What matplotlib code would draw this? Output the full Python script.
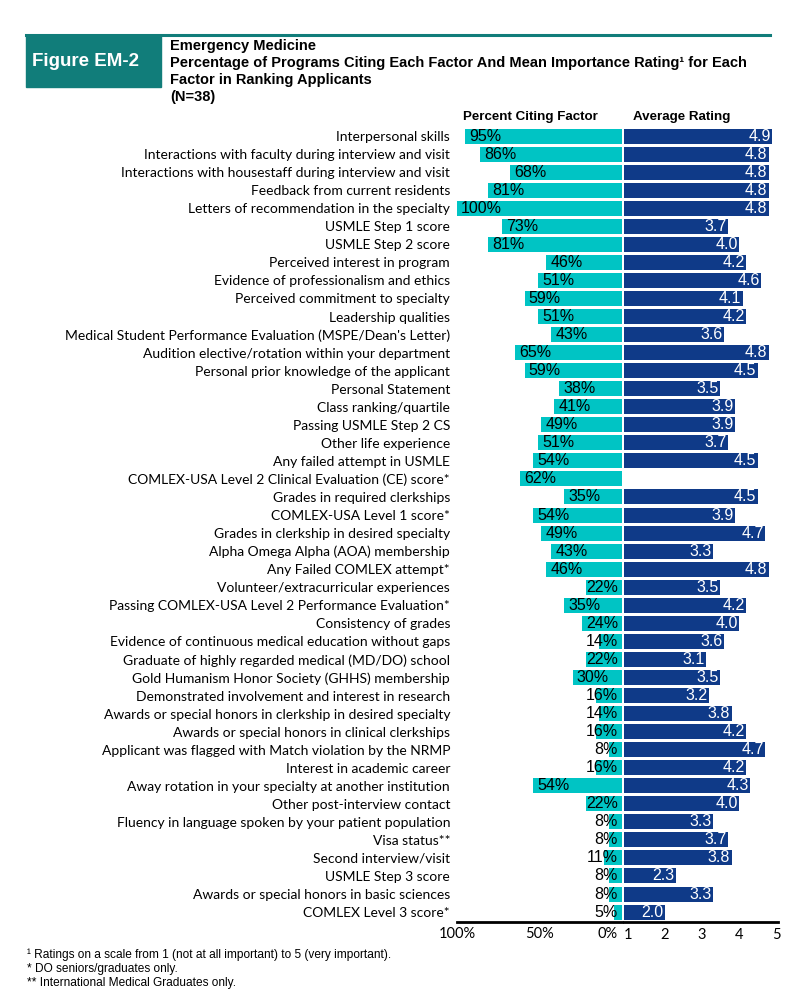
import matplotlib
matplotlib.use("Agg")
import matplotlib.pyplot as plt
from matplotlib.patches import Rectangle
from matplotlib.lines import Line2D

factors = [
    "Interpersonal skills",
    "Interactions with faculty during interview and visit",
    "Interactions with housestaff during interview and visit",
    "Feedback from current residents",
    "Letters of recommendation in the specialty",
    "USMLE Step 1 score",
    "USMLE Step 2 score",
    "Perceived interest in program",
    "Evidence of professionalism and ethics",
    "Perceived commitment to specialty",
    "Leadership qualities",
    "Medical Student Performance Evaluation (MSPE/Dean's Letter)",
    "Audition elective/rotation within your department",
    "Personal prior knowledge of the applicant",
    "Personal Statement",
    "Class ranking/quartile",
    "Passing USMLE Step 2 CS",
    "Other life experience",
    "Any failed attempt in USMLE",
    "COMLEX-USA Level 2 Clinical Evaluation (CE) score*",
    "Grades in required clerkships",
    "COMLEX-USA Level 1 score*",
    "Grades in clerkship in desired specialty",
    "Alpha Omega Alpha (AOA) membership",
    "Any Failed COMLEX attempt*",
    "Volunteer/extracurricular experiences",
    "Passing COMLEX-USA Level 2 Performance Evaluation*",
    "Consistency of grades",
    "Evidence of continuous medical education without gaps",
    "Graduate of highly regarded medical (MD/DO) school",
    "Gold Humanism Honor Society (GHHS) membership",
    "Demonstrated involvement and interest in research",
    "Awards or special honors in clerkship in desired specialty",
    "Awards or special honors in clinical clerkships",
    "Applicant was flagged with Match violation by the NRMP",
    "Interest in academic career",
    "Away rotation in your specialty at another institution",
    "Other post-interview contact",
    "Fluency in language spoken by your patient population",
    "Visa status**",
    "Second interview/visit",
    "USMLE Step 3 score",
    "Awards or special honors in basic sciences",
    "COMLEX Level 3 score*",
]

pct_citing = [95, 86, 68, 81, 100, 73, 81, 46, 51, 59, 51, 43, 65, 59, 38, 41, 49, 51, 54, 62,
              35, 54, 49, 43, 46, 22, 35, 24, 14, 22, 30, 16, 14, 16, 8, 16, 54, 22, 8, 8,
              11, 8, 8, 5]

# None = no rating reported
avg_rating = [4.9, 4.8, 4.8, 4.8, 4.8, 3.7, 4.0, 4.2, 4.6, 4.1, 4.2, 3.6, 4.8, 4.5, 3.5, 3.9, 3.9, 3.7, 4.5, None,
              4.5, 3.9, 4.7, 3.3, 4.8, 3.5, 4.2, 4.0, 3.6, 3.1, 3.5, 3.2, 3.8, 4.2, 4.7, 4.2, 4.3, 4.0, 3.3, 3.7,
              3.8, 2.3, 3.3, 2.0]

pct_ticks = [100, 50, 0]
rating_ticks = [1, 2, 3, 4, 5]

CYAN = "#00C4C4"
NAVY = "#0F3A88"
TEAL = "#117D7A"
ARIAL = ["Liberation Sans", "DejaVu Sans"]
CALIBRI = ["Lato", "DejaVu Sans"]

W, H = 800, 990
fig = plt.figure(figsize=(W / 100, H / 100), dpi=100)

def fx(px):
    return px / W

def fy(py):
    return 1 - py / H

# header
fig.add_artist(Line2D([fx(26), fx(770)], [fy(35), fy(35)], color=TEAL, lw=2.2))
fig.add_artist(Rectangle((fx(26), fy(87)), fx(161) - fx(26), fy(35) - fy(87), color=TEAL))
fig.text(fx(32), fy(61), "Figure EM-2", color="white", fontsize=13.5, fontweight="bold",
         family=ARIAL, va="center")
header = ["Emergency Medicine",
          "Percentage of Programs Citing Each Factor And Mean Importance Rating\u00b9 for Each",
          "Factor in Ranking Applicants",
          "(N=38)"]
for i, line in enumerate(header):
    fig.text(fx(170), fy(46 + 17 * i), line, fontsize=10.5, fontweight="bold",
             family=ARIAL, va="center")

fig.text(fx(530), fy(117), "Percent Citing Factor", fontsize=9.6, fontweight="bold",
         family=ARIAL, ha="center", va="center")
fig.text(fx(682), fy(117), "Average Rating", fontsize=9.6, fontweight="bold",
         family=ARIAL, ha="center", va="center")

bottom, top = fy(922), fy(127)
ax_l = fig.add_axes([fx(457), bottom, fx(622) - fx(457), top - bottom])
ax_r = fig.add_axes([fx(624), bottom, fx(778) - fx(624), top - bottom])

n = len(factors)
ypos = list(range(n))

# left panel: percent citing
ax_l.barh(ypos, pct_citing, height=0.83, color=CYAN, left=0)
ax_l.set_xlim(100, 0)
ax_l.set_ylim(n - 0.45, -0.5)
for y, v in zip(ypos, pct_citing):
    if v < 24:
        ax_l.annotate(f"{v}%", (0, y), xytext=(-3, 0), textcoords="offset points",
                      ha="right", va="center", fontsize=11.5, family=ARIAL)
    else:
        ax_l.annotate(f"{v}%", (v, y), xytext=(3, 0), textcoords="offset points",
                      ha="left", va="center", fontsize=11.5, family=ARIAL)

ax_l.set_yticks(ypos)
ax_l.set_yticklabels(factors, fontsize=10.0, family=CALIBRI)
ax_l.tick_params(axis="y", length=0, pad=5)
ax_l.set_xticks([])
for t in pct_ticks:
    ha = "right" if t == 0 else "center"
    dx = -3 if t == 0 else 0
    ax_l.annotate(f"{t}%", (t, 0), xycoords=ax_l.get_xaxis_transform(),
                  xytext=(dx, -8.5), textcoords="offset points",
                  ha=ha, va="center", fontsize=10.5, family=CALIBRI)

# right panel: average rating
x0 = 0.9
for y, r in zip(ypos, avg_rating):
    if r is None:
        continue
    ax_r.barh(y, r - x0, left=x0, height=0.83, color=NAVY)
    ax_r.annotate(f"{r:.1f}", (r, y), xytext=(-1, 0), textcoords="offset points",
                  ha="right", va="center", fontsize=11.5, color="white", family=ARIAL)
ax_r.set_xlim(x0, 5.05)
ax_r.set_ylim(n - 0.45, -0.5)
ax_r.set_yticks([])
ax_r.set_xticks(rating_ticks)
ax_r.set_xticklabels([str(t) for t in rating_ticks], fontsize=10.5, family=CALIBRI)
ax_r.tick_params(axis="x", length=0, pad=4)

for ax in (ax_l, ax_r):
    for s in ("top", "left", "right"):
        ax.spines[s].set_visible(False)
    ax.spines["bottom"].set_linewidth(2)
    ax.patch.set_alpha(0)

notes = ["\u00b9 Ratings on a scale from 1 (not at all important) to 5 (very important).",
         "* DO seniors/graduates only.",
         "** International Medical Graduates only."]
for i, line in enumerate(notes):
    fig.text(fx(27), fy(955 + 14 * i), line, fontsize=8.6, family=ARIAL, va="center")

fig.savefig("out.png", dpi=100)
